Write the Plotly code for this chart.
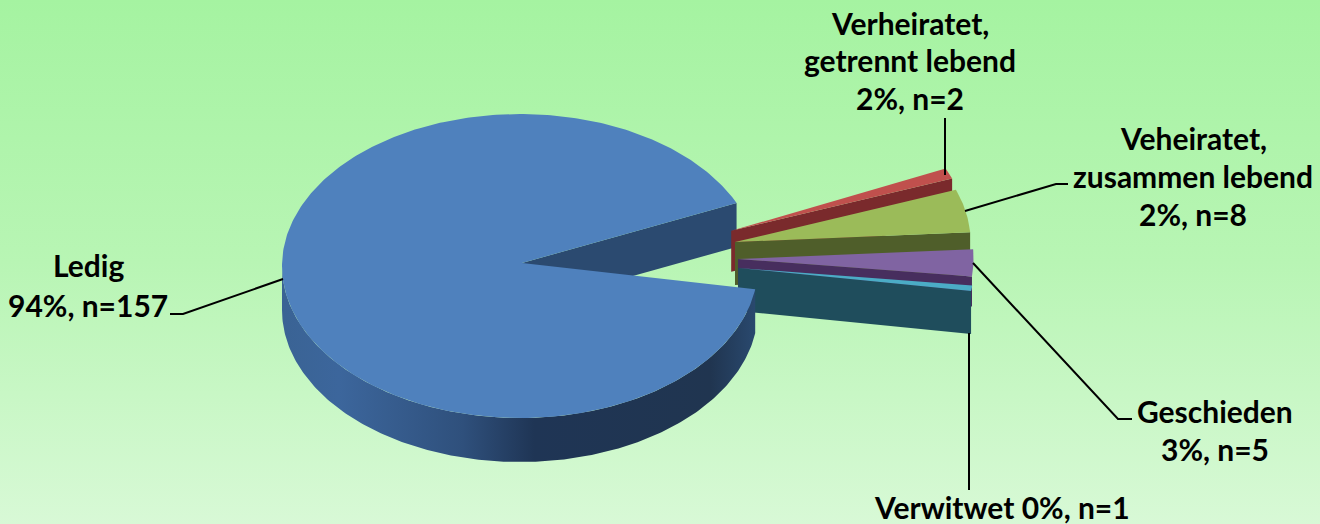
import math
import plotly.graph_objects as go

# ---- data ----
categories = ["Ledig", "Verheiratet, getrennt lebend", "Veheiratet, zusammen lebend", "Geschieden", "Verwitwet"]
counts = [157, 2, 8, 5, 1]
percent_labels = ["94%", "2%", "2%", "3%", "0%"]

# ---- geometry / style (pixel canvas) ----
W, H = 1320, 524
CX, CY, RX, RY = 520, 266, 238, 152   # top-face ellipse
APEX = (522, 263)
DEPTH = 44
START_DEG = 24.5       # clockwise from the end of Ledig's gap
PULL = 0.917
PULL_DIR = [14.6, 9.9, 2.9, -0.8]
WALL_DEPTH = [41, 43, 30, 43]
SLICE_SCALE = 0.99
BLUE = "#4F81BD"
TOP_COL = ["#C0504D", "#9BBB59", "#8064A2", "#4BACC6"]
SIDE_COL = ["#7A2A2C", "#4F5E2A", "#472E5E", "#1F4D5C"]
FONT = "Lato"
FSIZE = 30

total = sum(counts)
sweeps = [c / total * 360 for c in counts]


def pt(cx, cy, deg, s=1.0):
    a = math.radians(deg)
    return cx + s * RX * math.cos(a), cy - s * RY * math.sin(a)


def arc(cx, cy, a0, a1, s=1.0, n=None):
    n = n or max(2, int(abs(a1 - a0) * 1.5) + 2)
    return [pt(cx, cy, a0 + (a1 - a0) * i / (n - 1), s) for i in range(n)]


def shift(pts, d=DEPTH):
    return [(x, y + d) for x, y in pts]


def poly(fig, pts, color=None, grad=None):
    xs = [p[0] for p in pts] + [pts[0][0]]
    ys = [p[1] for p in pts] + [pts[0][1]]
    kw = dict(fillgradient=grad) if grad else dict(fillcolor=color)
    fig.add_trace(go.Scatter(x=xs, y=ys, mode="lines", fill="toself", line=dict(width=0),
                             hoverinfo="skip", showlegend=False, **kw))


fig = go.Figure()

# background gradient
poly(fig, [(0, 0), (W, 0), (W, H), (0, H)],
     grad=dict(type="vertical", start=0, stop=H,
               colorscale=[[0, "#A5F3A1"], [0.5, "#B8F5B4"], [1, "#D8F9D6"]]))

# angles, clockwise starting at the top of the gap
a = START_DEG
edges = []
for sw in sweeps[1:]:
    edges.append((a, a - sw))
    a -= sw
led_start = a                    # Ledig runs clockwise from here round to START_DEG
led_end = START_DEG - 360

# Ledig inner wall (behind everything)
e = pt(CX, CY, START_DEG)
poly(fig, [APEX, e, (e[0], e[1] + DEPTH), (APEX[0], APEX[1] + DEPTH)], color="#2B4A70")

# exploded slices, back to front
for i, (hi, lo) in enumerate(edges):
    d = math.radians(PULL_DIR[i])
    ax = CX + PULL * RX * math.cos(d)
    ay = CY - PULL * RY * math.sin(d)
    wall_top = [(ax, ay), pt(ax, ay, lo, SLICE_SCALE)]
    poly(fig, wall_top + shift(wall_top, WALL_DEPTH[i])[::-1], color=SIDE_COL[i])
    poly(fig, [(ax, ay)] + arc(ax, ay, hi, lo, SLICE_SCALE), color=TOP_COL[i])

# Ledig outer wall
wall = arc(CX, CY, -180, led_start, n=200)
poly(fig, wall + shift(wall)[::-1],
     grad=dict(type="horizontal", start=CX - RX, stop=CX + RX,
               colorscale=[[0, "#3A6394"], [0.12, "#3C669C"], [0.38, "#2F507C"],
                           [0.53, "#1F3555"], [0.9, "#203550"], [1, "#2A4A70"]]))
# Ledig top face
poly(fig, [APEX] + arc(CX, CY, led_start, led_end, n=400), color=BLUE)

# labels
label_lines = [
    (88, [(265, categories[0]), (305, f"{percent_labels[0]}, n={counts[0]}")]),
    (910, [(23, "Verheiratet,"), (60, "getrennt lebend"), (98, f"{percent_labels[1]}, n={counts[1]}")]),
    (1193, [(138, "Veheiratet,"), (176, "zusammen lebend"), (214, f"{percent_labels[2]}, n={counts[2]}")]),
    (1215, [(411, categories[3]), (449, f"{percent_labels[3]}, n={counts[3]}")]),
    (1002, [(507, f"{categories[4]} {percent_labels[4]}, n={counts[4]}")]),
]
annotations = []
for x, rows in label_lines:
    for y, txt in rows:
        annotations.append(dict(x=x, y=y, text=f"<b>{txt}</b>", showarrow=False, xanchor="center",
                                yanchor="middle", font=dict(family=FONT, size=FSIZE, color="black")))

leaders = [
    [(170, 314), (183, 314), (283, 279)],
    [(945, 118), (945, 175)],
    [(1068, 184), (1056, 184), (965, 211)],
    [(973, 263), (1118, 419), (1132, 419)],
    [(969, 333), (969, 490)],
]
shapes = []
for L in leaders:
    path = "M " + " L ".join(f"{x},{y}" for x, y in L)
    shapes.append(dict(type="path", path=path, line=dict(color="black", width=2)))

fig.update_layout(
    width=W, height=H, margin=dict(l=0, r=0, t=0, b=0), showlegend=False,
    paper_bgcolor="#C0F5BA", plot_bgcolor="rgba(0,0,0,0)",
    xaxis=dict(range=[0, W], visible=False, fixedrange=True),
    yaxis=dict(range=[H, 0], visible=False, fixedrange=True),
    annotations=annotations, shapes=shapes,
)
fig.write_html("out.html", config=dict(displayModeBar=False),
               post_script="document.body.style.margin='0';document.body.style.overflow='hidden';")
